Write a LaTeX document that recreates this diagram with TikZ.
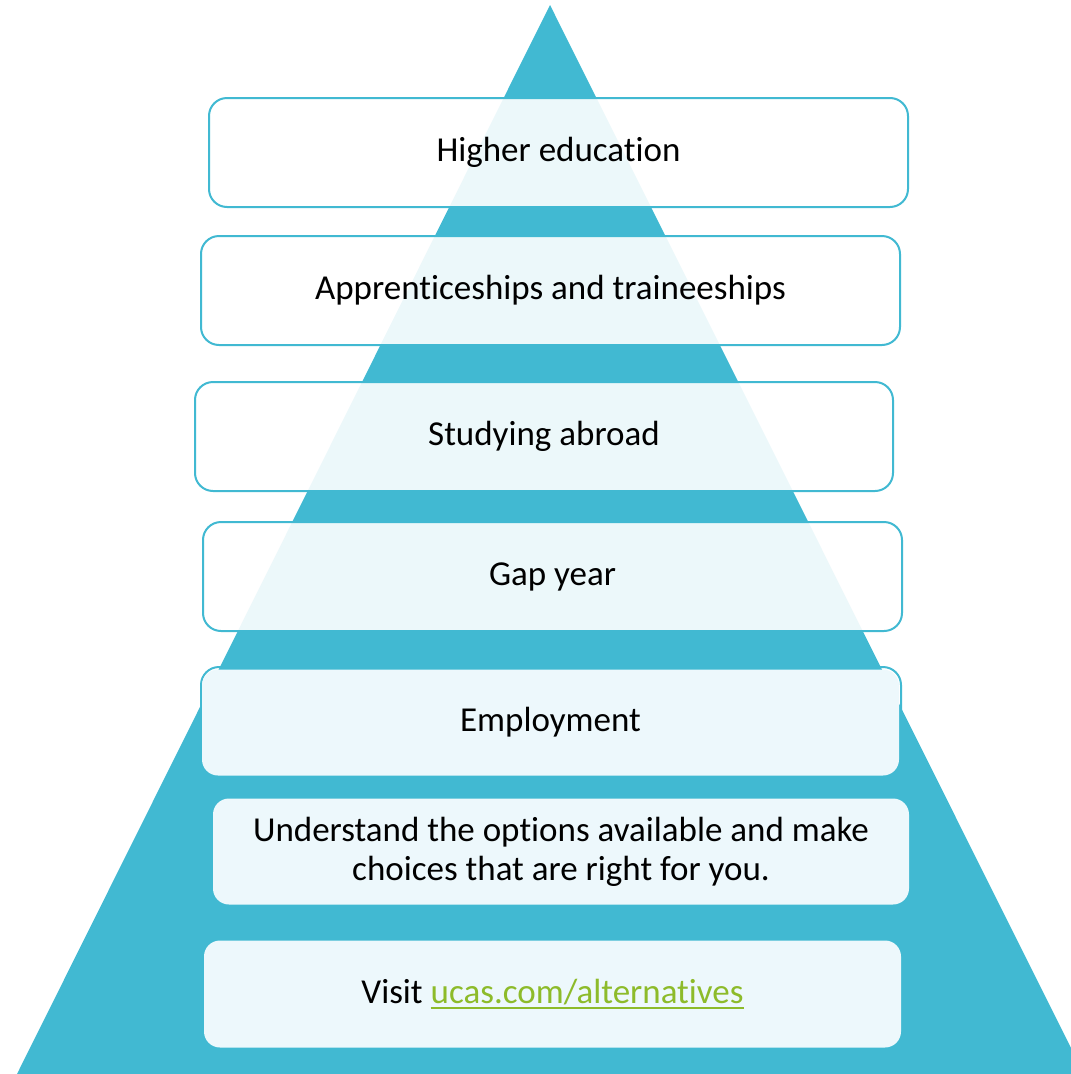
\documentclass[tikz,border=0pt]{standalone}
\usepackage{fontspec}
\setmainfont[Ligatures=NoCommon]{Carlito}
\definecolor{tri}{HTML}{41B9D2}
\definecolor{lite}{HTML}{EDF8FC}
\definecolor{link}{HTML}{8DBB2A}
\tikzset{
  outlinebox/.style={draw=tri, line width=2pt, rounded corners=18pt, fill=white, fill opacity=0.9, text opacity=1,
    inner sep=0pt, font=\fontsize{35}{39}\selectfont, align=center},
  solidbox/.style={draw=none, rounded corners=16pt, fill=lite, inner sep=0pt,
    font=\fontsize{35}{39}\selectfont, align=center},
}
\newcommand{\linkul}[1]{\setbox0\hbox{#1}\rlap{\raisebox{-6pt}{\rule{\wd0}{2pt}}}\box0}
\begin{document}
\begin{tikzpicture}[x=1pt,y=-1pt]
\useasboundingbox (0,0) rectangle (1071,1074);
\begin{scope}
\clip (0,0) rectangle (1071,1074);
\fill[tri] (550,5) -- (17,1074) -- (1084,1074) -- cycle;
\end{scope}
\node[outlinebox, minimum width=699pt, minimum height=109pt] (he) at (558.5,152.5) {Higher education};
\node[outlinebox, minimum width=699pt, minimum height=109pt] (ap) at (550.5,290.5) {Apprenticeships and traineeships};
\node[outlinebox, minimum width=698pt, minimum height=109pt] (sa) at (544,436.5) {Studying abroad};
\node[outlinebox, minimum width=699pt, minimum height=109pt] (gy) at (552.5,576.5) {Gap year};
\node[outlinebox, fill=none, minimum width=700pt, minimum height=109pt] (emb) at (551,721.5) {};
\node[solidbox, minimum width=697pt, minimum height=106pt] (em) at (550.5,722.5) {Employment};
\node[solidbox, minimum width=696pt, minimum height=106pt] (un) at (561,851.5) {Understand the options available and make\\choices that are right for you.};
\node[solidbox, minimum width=697pt, minimum height=107pt] (vi) at (552.5,994) {Visit \textcolor{link}{\linkul{ucas.com/alternatives}}};
\end{tikzpicture}
\end{document}
